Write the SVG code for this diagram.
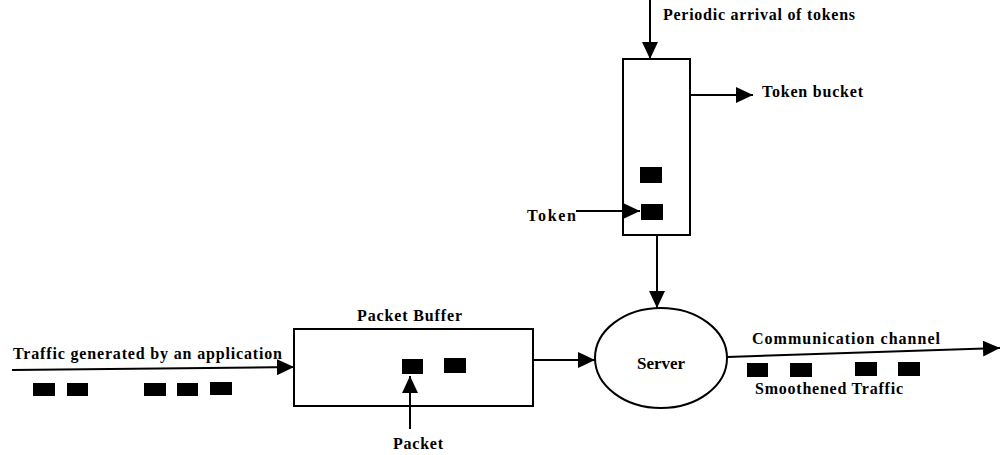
<svg xmlns="http://www.w3.org/2000/svg" width="1000" height="455" viewBox="0 0 1000 455">
<style>
.ln{stroke:#000;stroke-width:2;fill:none}
.box{stroke:#000;stroke-width:2;fill:#fff}
.sq{fill:#000}
text{font-family:"Liberation Serif","Times New Roman",serif;font-size:16px;font-weight:bold;fill:#000}
</style>
<defs>
<marker id="ah" markerUnits="userSpaceOnUse" markerWidth="17" markerHeight="16" refX="17" refY="8" orient="auto">
<path d="M0,0 L17,8 L0,16 Z" fill="#000"/>
</marker>
</defs>
<rect width="1000" height="455" fill="#fff"/>
<g id="token-bucket">
<rect class="box" x="623" y="59" width="67" height="176"/>
<rect class="sq" x="640" y="167" width="22" height="16"/>
<rect class="sq" x="641" y="204" width="22" height="16"/>
</g>
<g id="packet-buffer">
<rect class="box" x="294" y="329" width="239" height="77"/>
<rect class="sq" x="402" y="359" width="21" height="15"/>
<rect class="sq" x="444" y="358" width="22" height="15"/>
</g>
<g id="server">
<ellipse class="box" cx="661" cy="358" rx="66" ry="50"/>
<text x="661" y="369" text-anchor="middle" style="font-size:17px">Server</text>
</g>
<g id="traffic">
<rect class="sq" x="33" y="383" width="22" height="13"/>
<rect class="sq" x="67" y="383" width="21" height="13"/>
<rect class="sq" x="144" y="383" width="22" height="13"/>
<rect class="sq" x="177" y="383" width="21" height="13"/>
<rect class="sq" x="210" y="382" width="22" height="13"/>
</g>
<g id="smoothened">
<rect class="sq" x="747" y="363" width="21" height="14"/>
<rect class="sq" x="790" y="363" width="22" height="14"/>
<rect class="sq" x="855" y="362" width="22" height="14"/>
<rect class="sq" x="898" y="362" width="22" height="14"/>
</g>
<g id="labels">
<text x="663" y="20" textLength="192">Periodic arrival of tokens</text>
<text x="762" y="97" textLength="101">Token bucket</text>
<text x="527" y="221" textLength="49">Token</text>
<text x="357" y="321" textLength="105">Packet Buffer</text>
<text x="13" y="359" textLength="269">Traffic generated by an application</text>
<text x="393" y="449" textLength="50">Packet</text>
<text x="752" y="344" textLength="188">Communication channel</text>
<text x="755" y="394" textLength="148">Smoothened Traffic</text>
</g>
<g id="connectors">
<line class="ln" x1="650" y1="0" x2="650" y2="59" marker-end="url(#ah)"/>
<line class="ln" x1="689" y1="95" x2="753" y2="95" marker-end="url(#ah)"/>
<line class="ln" x1="576" y1="211" x2="640" y2="211" marker-end="url(#ah)"/>
<line class="ln" x1="657" y1="235" x2="657" y2="308" marker-end="url(#ah)"/>
<line class="ln" x1="12" y1="370" x2="294" y2="367" marker-end="url(#ah)"/>
<line class="ln" x1="533" y1="360" x2="595" y2="360" marker-end="url(#ah)"/>
<line class="ln" x1="410" y1="429" x2="410" y2="376" marker-end="url(#ah)"/>
<line class="ln" x1="727" y1="357" x2="1000" y2="348" marker-end="url(#ah)"/>
</g>
</svg>
